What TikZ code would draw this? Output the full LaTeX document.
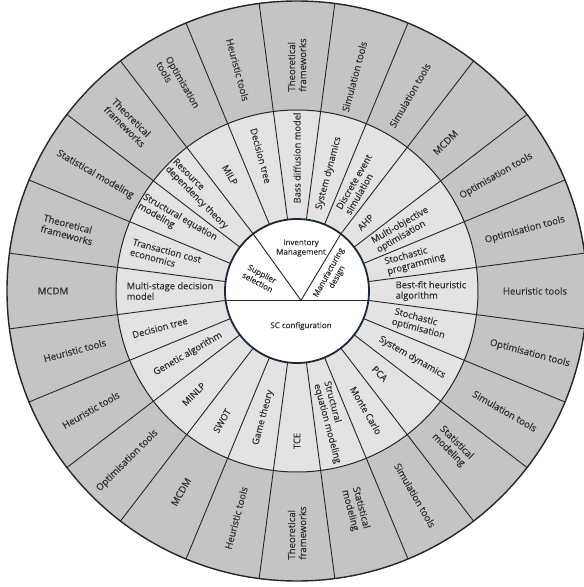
\documentclass[tikz,border=0pt]{standalone}
\usepackage{fontspec}
\setmainfont{Open Sans}[FakeBold=0.4]
\definecolor{ringout}{HTML}{C4C4C4}
\definecolor{ringmid}{HTML}{E3E3E3}
\definecolor{linec}{HTML}{262626}
\definecolor{txt}{HTML}{303030}
\definecolor{innerb}{HTML}{1C2838}
\begin{document}
\begin{tikzpicture}[x=1pt,y=1pt,
  sepline/.style={draw=linec, line width=0.9pt},
  olab/.style={font=\fontsize{9.6}{11}\selectfont, text=txt, align=left, inner sep=0pt},
  mlab/.style={font=\fontsize{9.3}{10.5}\selectfont, text=txt, align=left, inner sep=0pt},
  ilab/.style={font=\fontsize{8}{9.5}\selectfont, text=txt, align=center, inner sep=0pt}]
\useasboundingbox (-297,-296) rectangle (287,291);
\fill[ringout] (0,0) circle (290);
\fill[ringmid] (0,0) circle (181);
\foreach \a in {7.5,22.5,...,352.5} \draw[sepline] (\a:72) -- (\a:290);
\draw[linec, line width=1pt] (0,0) circle (181);
\draw[linec, line width=1.4pt] (0,0) circle (290);
\draw[fill=white, draw=innerb, line width=1.8pt] (0,0) circle (72);
\coordinate (cL) at (187.5:72);
\coordinate (cR) at (352.5:72);
\coordinate (cTL) at (127.5:72);
\coordinate (cTR) at (52.5:72);
\coordinate (P) at (4,-9.4);
\draw[sepline] (cL) -- (cR);
\draw[sepline] (cTL) -- (P) -- (cTR);
\node[ilab] (inv) at (4,43) {Inventory\\Management};
\node[ilab, rotate=-28] (sup) at (-37,13) {Supplier\\selection};
\node[ilab, rotate=61] (man) at (36,16) {Manufacturing\\design};
\node[ilab] (scc) at (4,-35) {SC configuration};
\foreach \a/\r/\d/\t [count=\i] in {
 90/90/226/{Theoretical\\frameworks},
 75/75/222/Simulation tools,
 60/60/226/Simulation tools,
 45/45/210/MCDM,
 30/30/230/Optimisation tools,
 15/15/236/Optimisation tools,
 0/0/238/Heuristic tools,
 -15/-15/241/Optimisation tools,
 -30/-30/240/Simulation tools,
 -45/-45/220/{Statistical\\modeling},
 -60/-60/236/Simulation tools,
 -75/-75/226/{Statistical\\modeling},
 -90/90/242/{Theoretical\\frameworks},
 -105/75/235/Heuristic tools,
 -120/60/232/MCDM,
 -135/45/240/Optimisation tools,
 -150/30/238/Heuristic tools,
 -165/15/230/Heuristic tools,
 180/0/244/MCDM,
 165/-15/237/{Theoretical\\frameworks},
 150/-30/233/Statistical modeling,
 135/-45/238/{Theoretical\\frameworks},
 120/-60/238/{Optimisation\\tools},
 105/-75/229/Heuristic tools}
 \node[olab, rotate=\r] (o\i) at (\a:\d) {\t};
\foreach \a/\r/\d/\t [count=\i] in {
 90/90/133/Bass diffusion model,
 75/75/122/System dynamics,
 60/60/123/{Discrete event\\simulation},
 45/45/97/AHP,
 30/30/122/{Multi-objective\\optimisation},
 15/15/122/{Stochastic\\programming},
 0/0/134/{Best-fit heuristic\\algorithm},
 -15/-15/127/{Stochastic\\optimisation},
 -30/-30/133/System dynamics,
 -45/-45/117/PCA,
 -60/-60/138/Monte Carlo,
 -75/-75/136/{Structural\\equation modeling},
 -90/90/150/TCE,
 -105/75/131/Game theory,
 -120/60/150/SWOT,
 -135/45/146/MINLP,
 -150/30/126/Genetic algorithm,
 -165/15/142/Decision tree,
 180/0/127/{Multi-stage decision\\model},
 165/-15/136/{Transaction cost\\economics},
 150/-30/138/{Structural equation\\modeling},
 135/-45/137/{Resource\\dependency theory},
 120/-60/134/MILP,
 105/-75/140/Decision tree}
 \node[mlab, rotate=\r] (m\i) at (\a:\d) {\t};
\end{tikzpicture}
\end{document}
